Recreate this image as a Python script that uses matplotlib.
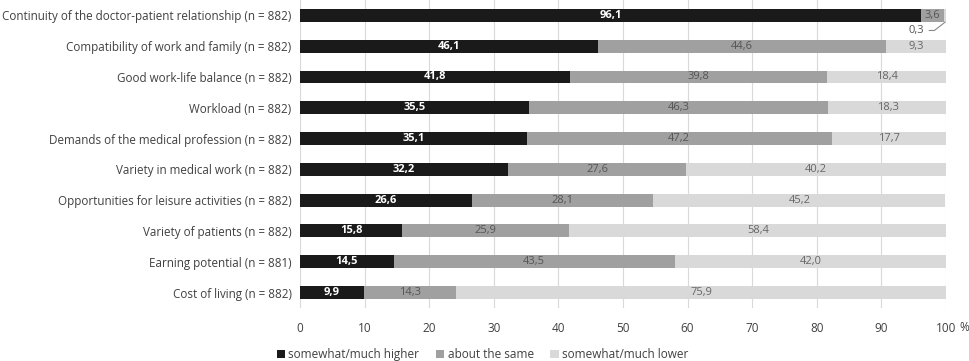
import matplotlib.pyplot as plt
import numpy as np

categories = [
    "Continuity of the doctor-patient relationship (n = 882)",
    "Compatibility of work and family (n = 882)",
    "Good work-life balance (n = 882)",
    "Workload (n = 882)",
    "Demands of the medical profession (n = 882)",
    "Variety in medical work (n = 882)",
    "Opportunities for leisure activities (n = 882)",
    "Variety of patients (n = 882)",
    "Earning potential (n = 881)",
    "Cost of living (n = 882)",
]
higher = [96.1, 46.1, 41.8, 35.5, 35.1, 32.2, 26.6, 15.8, 14.5, 9.9]
same = [3.6, 44.6, 39.8, 46.3, 47.2, 27.6, 28.1, 25.9, 43.5, 14.3]
lower = [0.3, 9.3, 18.4, 18.3, 17.7, 40.2, 45.2, 58.4, 42.0, 75.9]
series_names = ["somewhat/much higher", "about the same", "somewhat/much lower"]
colors = ["#1a1a1a", "#a0a0a0", "#d9d9d9"]

plt.rcParams['font.family'] = ['Open Sans', 'DejaVu Sans']
txt = "#404040"

fig = plt.figure(figsize=(9.69, 3.61), dpi=100)
ax = fig.add_axes([0.3096, 0.147, 0.6667, 0.853])

y = np.arange(len(categories))
h = 0.42
left = np.zeros(len(categories))
for vals, c, name in zip([higher, same, lower], colors, series_names):
    ax.barh(y, vals, left=left, height=h, color=c, label=name, zorder=2)
    left = left + np.array(vals)

def fmt(v):
    return f"{v:.1f}".replace(".", ",")

for i in range(len(categories)):
    ax.text(higher[i] / 2, y[i], fmt(higher[i]), ha="center", va="center",
            color="white", fontsize=8, fontweight="bold", zorder=3)
    ax.text(higher[i] + same[i] / 2, y[i], fmt(same[i]), ha="center", va="center",
            color="#555555", fontsize=8, zorder=3)
    if i > 0:
        ax.text(higher[i] + same[i] + lower[i] / 2, y[i], fmt(lower[i]),
                ha="center", va="center", color="#666666", fontsize=8, zorder=3)

# small slice labelled below the bar with a leader line
ax.text(95.4, 0.49, fmt(lower[0]), ha="center", va="center", fontsize=8,
        color="#555555", zorder=3)
ax.plot([97.4, 98.2, 99.85], [0.49, 0.49, 0.22], color="#888888", lw=0.8,
        zorder=3, clip_on=False)

ax.set_xlim(0, 100)
ax.set_ylim(len(categories) - 0.5, -0.5)
ax.set_yticks(y)
ax.set_yticklabels(categories, fontsize=8.4, color=txt)
ax.set_xticks(range(0, 101, 10))
ax.set_xticklabels([str(v) for v in range(0, 101, 10)], fontsize=8.5, color=txt)
ax.text(102.0, -0.065, "%", transform=ax.get_xaxis_transform(), ha="left",
        va="center", fontsize=8.5, color=txt)
ax.tick_params(length=0, pad=10, axis="x")
ax.tick_params(length=0, pad=6, axis="y")
ax.grid(axis="x", color="#d9d9d9", lw=0.8, zorder=0)
for s in ax.spines.values():
    s.set_visible(False)

fig.legend(loc="lower center", bbox_to_anchor=(0.498, -0.03), ncol=3, frameon=False,
           fontsize=8.5, handlelength=0.7, handleheight=0.7, handletextpad=0.3,
           columnspacing=1.4, labelcolor=txt)

fig.savefig("out.png", dpi=100)
